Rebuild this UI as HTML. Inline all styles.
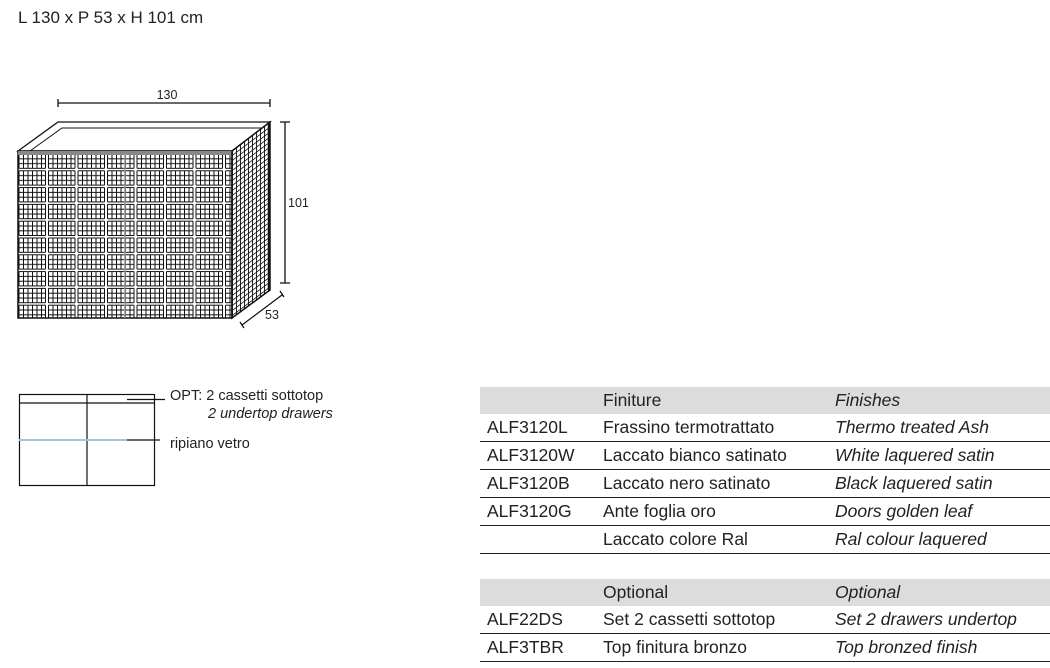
<!DOCTYPE html>
<html><head><meta charset="utf-8"><style>
body{margin:0;width:1050px;height:668px;background:#fff;font-family:"Liberation Sans",sans-serif;color:#222;position:relative;overflow:hidden}
.t{position:absolute;white-space:nowrap}
.i{font-style:italic}
.tb{position:absolute;left:480px;width:570px;font-size:17.5px}
.row{position:relative;height:27px;border-bottom:1.5px solid #222}
.row span{position:absolute;top:3px}
.g{background:#dcdcdc;border-bottom:none}
.c1{left:7px}.c2{left:123px}.c3{left:355px}
</style></head><body>
<div class="t" style="left:18px;top:8px;font-size:17px">L 130 x P 53 x H 101 cm</div>
<svg style="position:absolute;left:0;top:0" width="1050" height="668">
<defs>
<pattern id="fg" width="29.5" height="16.8" patternUnits="userSpaceOnUse" x="18" y="153">
<rect width="29.5" height="16.8" fill="#fff"/>
<g stroke="#111" stroke-width="1">
<path d="M1 1V15.3M5.5 1V15.3M10 1V15.3M14.5 1V15.3M19 1V15.3M23.5 1V15.3M27.5 1V15.3"/>
<path d="M1 1H27.5M1 5.8H27.5M1 10.6H27.5M1 15.3H27.5"/>
</g>
</pattern>
<pattern id="sg" width="4" height="5" patternUnits="userSpaceOnUse" patternTransform="skewY(-37)">
<rect width="4" height="5" fill="#fff"/>
<path d="M0.5 0V5M0 0.5H4" stroke="#111" stroke-width="1"/>
</pattern>
</defs>
<g stroke="#111" stroke-width="1.3" fill="none">
<path d="M58 103H270M58 99V107M270 99V107"/>
<path d="M280 122H290M285 122V283M280 283H290"/>
<path d="M242 325L282 295M240 322L244 328M280 291L284 297"/>
<path d="M18 151L58 122H270L232 151Z" fill="#fff"/>
<path d="M30 151L62 128H262" stroke-width="1"/>
</g>
<rect x="18" y="151" width="214" height="167" fill="url(#fg)" stroke="#111" stroke-width="1.5"/>
<rect x="18" y="151" width="214" height="4" fill="#888"/>
<line x1="125" y1="153" x2="125" y2="318" stroke="#999" stroke-width="1.5"/>
<path d="M232 151L270 122V290L232 318Z" fill="url(#sg)" stroke="#111" stroke-width="1.5"/>
<line x1="269" y1="124" x2="269" y2="290" stroke="#111" stroke-width="2.5"/>
<text x="167" y="99" font-size="12.5" text-anchor="middle" fill="#222" font-family="Liberation Sans">130</text>
<text x="288" y="207" font-size="12.5" fill="#222" font-family="Liberation Sans">101</text>
<text x="265" y="319" font-size="12.5" fill="#222" font-family="Liberation Sans">53</text>
<g stroke="#111" stroke-width="1.2" fill="none">
<rect x="19.5" y="394.5" width="135" height="91"/>
<path d="M87 394V485M19 403H155M127 399.5H165M127 440H160"/>
</g>
<line x1="19" y1="440" x2="127" y2="440" stroke="#9cc8d6" stroke-width="2"/>
</svg>
<div class="t" style="left:170px;top:388px;font-size:14.5px">OPT: 2 cassetti sottotop</div>
<div class="t i" style="left:208px;top:406px;font-size:14.5px">2 undertop drawers</div>
<div class="t" style="left:170px;top:436px;font-size:14.5px">ripiano vetro</div>
<div class="tb" style="top:387px">
<div class="row g"><span class="c2">Finiture</span><span class="c3 i">Finishes</span></div>
<div class="row"><span class="c1">ALF3120L</span><span class="c2">Frassino termotrattato</span><span class="c3 i">Thermo treated Ash</span></div>
<div class="row"><span class="c1">ALF3120W</span><span class="c2">Laccato bianco satinato</span><span class="c3 i">White laquered satin</span></div>
<div class="row"><span class="c1">ALF3120B</span><span class="c2">Laccato nero satinato</span><span class="c3 i">Black laquered satin</span></div>
<div class="row"><span class="c1">ALF3120G</span><span class="c2">Ante foglia oro</span><span class="c3 i">Doors golden leaf</span></div>
<div class="row"><span class="c2">Laccato colore Ral</span><span class="c3 i">Ral colour laquered</span></div>
</div>
<div class="tb" style="top:579px">
<div class="row g"><span class="c2">Optional</span><span class="c3 i">Optional</span></div>
<div class="row"><span class="c1">ALF22DS</span><span class="c2">Set 2 cassetti sottotop</span><span class="c3 i">Set 2 drawers undertop</span></div>
<div class="row"><span class="c1">ALF3TBR</span><span class="c2">Top finitura bronzo</span><span class="c3 i">Top bronzed finish</span></div>
</div>
</body></html>
